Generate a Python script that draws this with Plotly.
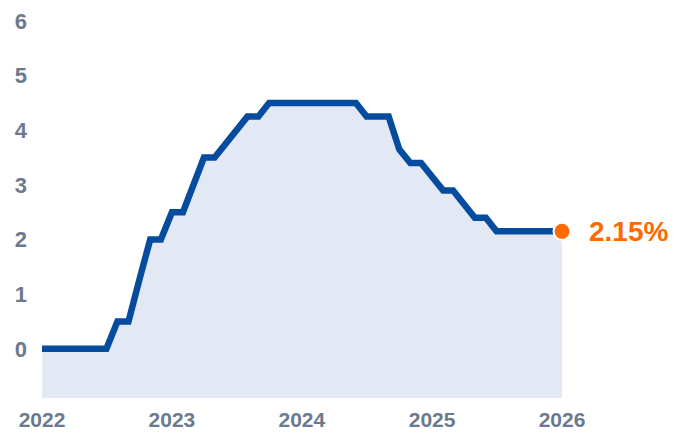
import plotly.graph_objects as go

# Monthly policy rate (%), first day of each month, Jan 2022 – Jan 2026
months = [f"{2022 + i // 12}-{i % 12 + 1:02d}-01" for i in range(49)]
rate = [
    0, 0, 0, 0, 0, 0, 0, 0.5, 0.5, 1.25, 2.0, 2.0,          # 2022
    2.5, 2.5, 3.0, 3.5, 3.5, 3.75, 4.0, 4.25, 4.25, 4.5, 4.5, 4.5,  # 2023
    4.5, 4.5, 4.5, 4.5, 4.5, 4.5, 4.25, 4.25, 4.25, 3.65, 3.4, 3.4,  # 2024
    3.15, 2.9, 2.9, 2.65, 2.4, 2.4, 2.15, 2.15, 2.15, 2.15, 2.15, 2.15,  # 2025
    2.15,                                                      # 2026
]
y_ticks = [0, 1, 2, 3, 4, 5, 6]
x_tick_labels = ["2022", "2023", "2024", "2025", "2026"]

Y_MIN, Y_MAX = -0.9, 6.0
LINE_BLUE = "#054c9f"
FILL_BLUE = "#e3e9f4"
ORANGE = "#ff6a00"
GREY = "#6b7a8f"
FONT = "Arial, Liberation Sans, sans-serif"

fig = go.Figure()

# floor of the shaded area
fig.add_trace(go.Scatter(
    x=months, y=[Y_MIN] * len(months), mode="lines",
    line=dict(width=0), hoverinfo="skip", showlegend=False,
))
# rate line with shading down to the floor
fig.add_trace(go.Scatter(
    x=months, y=rate, mode="lines", fill="tonexty", fillcolor=FILL_BLUE,
    line=dict(color=LINE_BLUE, width=6.5), showlegend=False,
))
# latest value marker
fig.add_trace(go.Scatter(
    x=[months[-1]], y=[rate[-1]], mode="markers",
    marker=dict(color=ORANGE, size=17, line=dict(color="white", width=2)),
    cliponaxis=False, showlegend=False,
))

fig.add_annotation(
    x=months[-1], y=rate[-1], xref="x", yref="y",
    text=f"{rate[-1]:.2f}%", showarrow=False,
    xanchor="left", yanchor="middle", xshift=25,
    font=dict(family=FONT, size=28, color=ORANGE, weight="bold"),
)

fig.update_layout(
    width=674, height=433,
    margin=dict(l=42, r=112, t=21, b=35),
    paper_bgcolor="white", plot_bgcolor="white",
    font=dict(family=FONT, color=GREY),
)
fig.update_xaxes(
    range=["2022-01-01", "2026-01-01"],
    tickvals=[f"{y}-01-01" for y in x_tick_labels], ticktext=x_tick_labels,
    showgrid=False, zeroline=False, showline=False, automargin=False,
    tickfont=dict(family=FONT, size=21, color=GREY, weight="bold"),
    ticklabelstandoff=7,
)
fig.update_yaxes(
    range=[Y_MIN, Y_MAX], tickvals=y_ticks,
    showgrid=False, zeroline=False, showline=False, automargin=False,
    tickfont=dict(family=FONT, size=22, color=GREY, weight="bold"),
    ticklabelstandoff=14,
)

fig.write_html("out.html")
